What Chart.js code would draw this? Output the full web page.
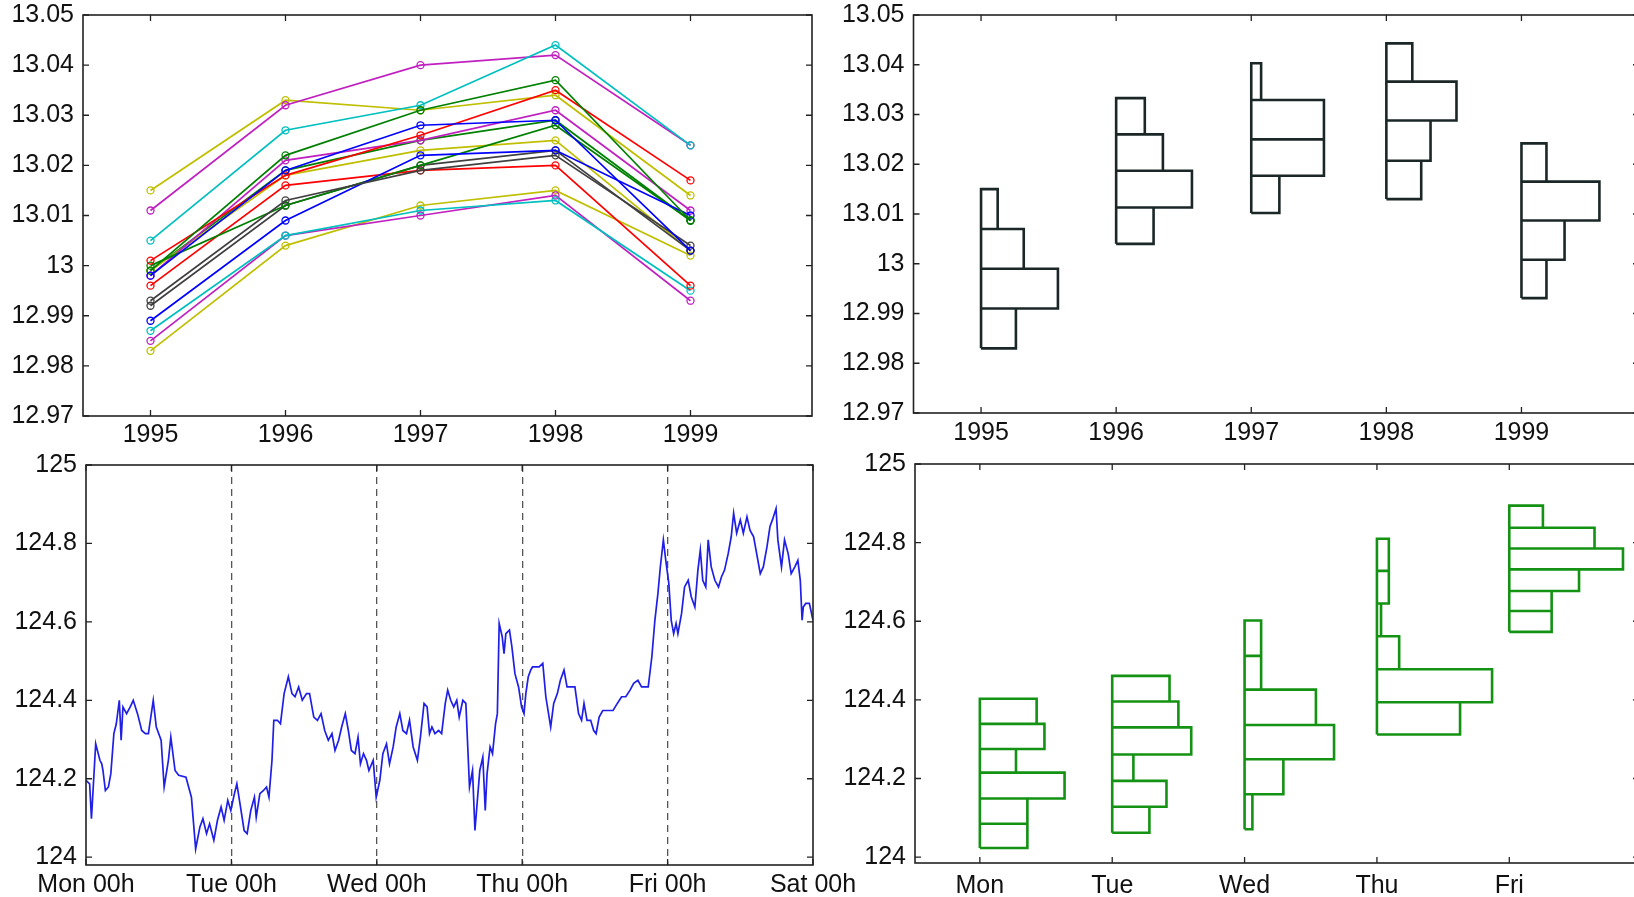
<!DOCTYPE html>
<html>
<head>
<meta charset="utf-8">
<script src="https://cdn.jsdelivr.net/npm/chart.js@4.4.0/dist/chart.umd.min.js"></script>
<style>
  html, body { margin: 0; background: #fff; overflow: hidden; width: 1634px; height: 897px; }
  canvas { position: absolute; }
</style>
</head>
<body>
<canvas id="lines" width="830" height="450" style="left:0;top:0"></canvas>
<canvas id="yearHist" width="830" height="450" style="left:830px;top:0"></canvas>
<canvas id="prices" width="870" height="457" style="left:0;top:440px"></canvas>
<canvas id="dayHist" width="830" height="457" style="left:830px;top:440px"></canvas>
<script>
// ---- data ----
const years = [1995, 1996, 1997, 1998, 1999];
const yTicksTop = [12.97, 12.98, 12.99, 13.00, 13.01, 13.02, 13.03, 13.04, 13.05];
const yTicksBottom = [124, 124.2, 124.4, 124.6, 124.8, 125];
const hourTicks = [0, 24, 48, 72, 96, 120];
const hourLabels = ['Mon 00h', 'Tue 00h', 'Wed 00h', 'Thu 00h', 'Fri 00h', 'Sat 00h'];
const dayTicks = [0, 1, 2, 3, 4];
const dayLabels = ['Mon', 'Tue', 'Wed', 'Thu', 'Fri'];

// one line per sample path (values per year)
const paths = [
  [12.998, 13.019, 13.028, 13.029, 13.003],
  [12.999, 13.022, 13.031, 13.037, 13.009],
  [13.001, 13.018, 13.026, 13.035, 13.017],
  [13.005, 13.027, 13.032, 13.044, 13.024],
  [13.011, 13.032, 13.040, 13.042, 13.024],
  [13.015, 13.033, 13.031, 13.034, 13.014],
  [12.993, 13.013, 13.019, 13.022, 13.004],
  [12.989, 13.009, 13.022, 13.023, 13.010],
  [13.000, 13.012, 13.020, 13.028, 13.009],
  [12.996, 13.016, 13.019, 13.020, 12.996],
  [12.987, 13.006, 13.011, 13.013, 12.995],
  [12.985, 13.006, 13.010, 13.014, 12.993],
  [12.983, 13.004, 13.012, 13.015, 13.002],
  [12.992, 13.012, 13.020, 13.023, 13.003],
  [12.998, 13.021, 13.025, 13.031, 13.011],
  [12.999, 13.018, 13.023, 13.025, 13.003],
  [12.999, 13.019, 13.025, 13.029, 13.009]
];
const pathColors = ['b', 'g', 'r', 'c', 'm', 'y', 'k', 'b', 'g', 'r', 'c', 'm', 'y', 'k', 'm', 'y', 'g'];

// histogram bin edges (bottom to top) and bar lengths, per year
const edges1995 = [12.983, 12.991, 12.999, 13.007, 13.015];
const len1995 = [0.258, 0.569, 0.316, 0.123];
const edges1996 = [13.004, 13.0113, 13.0187, 13.026, 13.0333];
const len1996 = [0.277, 0.561, 0.346, 0.212];
const edges1997 = [13.0102, 13.0177, 13.025, 13.0329, 13.0403];
const len1997 = [0.208, 0.538, 0.538, 0.073];
const edges1998 = [13.013, 13.0207, 13.0288, 13.0366, 13.0443];
const len1998 = [0.258, 0.327, 0.519, 0.192];
const edges1999 = [12.9931, 13.0008, 13.0087, 13.0165, 13.0242];
const len1999 = [0.185, 0.319, 0.577, 0.185];

// intraday price path
const hours = [0, 0.6, 0.9, 1.6, 2.3, 2.6, 2.8, 3.2, 3.7, 4.1, 4.6, 5.0, 5.5, 5.8, 6.1, 6.7, 7.3, 7.8, 8.5, 9.2,
  9.8, 10.3, 11.1, 11.6, 12.4, 12.9, 13.6, 14.0, 14.7, 15.3, 16.5, 17.4, 18.1, 18.8, 19.3, 19.9, 20.4, 21.1, 21.7, 22.3,
  22.8, 23.4, 23.9, 24.5, 24.9, 25.5, 26.1, 26.6, 27.2, 27.8, 28.1, 28.7, 29.3, 29.8, 30.2, 30.7, 31.0, 31.6, 32.1, 32.7,
  33.4, 34.0, 34.5, 35.1, 35.7, 36.4, 36.9, 37.6, 38.2, 38.8, 39.4, 40.0, 40.6, 41.1, 41.7, 42.2, 42.8, 43.3, 43.8, 44.4,
  44.9, 45.3, 45.8, 46.3, 46.7, 47.4, 47.9, 48.5, 49.0, 49.6, 50.1, 50.7, 51.2, 51.8, 52.3, 52.9, 53.4, 54.0, 54.7, 55.2,
  55.8, 56.3, 56.7, 57.1, 57.6, 58.2, 58.7, 59.3, 59.7, 60.2, 60.7, 61.2, 61.6, 62.2, 62.7, 63.3, 63.8, 64.2, 64.6, 65.0,
  65.5, 65.9, 66.2, 66.7, 67.1, 67.6, 67.9, 68.2, 68.7, 69.0, 69.3, 69.9, 70.3, 70.8, 71.4, 71.9, 72.3, 72.6, 73.0, 73.4,
  73.7, 74.3, 74.8, 75.4, 75.9, 76.7, 77.2, 77.8, 78.3, 78.9, 79.4, 80.0, 80.7, 81.3, 81.8, 82.2, 82.7, 83.3, 83.8, 84.2,
  84.7, 85.3, 86.1, 87.0, 87.7, 88.4, 89.1, 89.8, 90.4, 91.1, 91.7, 92.2, 92.8, 93.4, 93.9, 94.4, 94.8, 95.3, 95.7, 96.2,
  96.6, 97.0, 97.4, 97.7, 98.3, 98.8, 99.4, 99.9, 100.5, 101.0, 101.4, 101.8, 102.3, 102.7, 103.2, 103.8, 104.4, 104.9, 105.4, 106.0,
  106.5, 106.9, 107.4, 108.0, 108.5, 109.1, 109.6, 110.2, 110.7, 111.3, 111.8, 112.4, 112.9, 113.3, 113.9, 114.2, 114.8, 115.3, 115.9, 116.4,
  117.0, 117.5, 117.9, 118.2, 118.4, 118.8, 119.4, 120.0];
const price = [124.196, 124.187, 124.098, 124.289, 124.247, 124.238, 124.221, 124.170, 124.179, 124.213, 124.315, 124.340, 124.400, 124.298, 124.383, 124.366, 124.383, 124.400, 124.366, 124.323,
  124.315, 124.315, 124.400, 124.332, 124.298, 124.179, 124.247, 124.306, 124.221, 124.209, 124.204, 124.153, 124.021, 124.077, 124.098, 124.060, 124.085, 124.043, 124.094, 124.128,
  124.094, 124.145, 124.119, 124.162, 124.187, 124.128, 124.068, 124.060, 124.119, 124.153, 124.102, 124.162, 124.170, 124.179, 124.153, 124.247, 124.349, 124.349, 124.340, 124.417,
  124.460, 124.417, 124.409, 124.434, 124.400, 124.417, 124.417, 124.357, 124.349, 124.366, 124.323, 124.298, 124.315, 124.272, 124.298, 124.332, 124.366, 124.323, 124.272, 124.264,
  124.306, 124.238, 124.264, 124.247, 124.221, 124.247, 124.153, 124.196, 124.264, 124.289, 124.238, 124.281, 124.332, 124.366, 124.323, 124.315, 124.349, 124.281, 124.247, 124.306,
  124.392, 124.383, 124.315, 124.332, 124.315, 124.323, 124.315, 124.392, 124.426, 124.400, 124.383, 124.400, 124.357, 124.400, 124.392, 124.179, 124.221, 124.068, 124.145, 124.221,
  124.255, 124.119, 124.213, 124.281, 124.264, 124.340, 124.366, 124.596, 124.562, 124.519, 124.570, 124.579, 124.536, 124.468, 124.434, 124.383, 124.366, 124.417, 124.460, 124.477,
  124.485, 124.485, 124.485, 124.494, 124.409, 124.332, 124.392, 124.417, 124.451, 124.477, 124.434, 124.434, 124.434, 124.366, 124.349, 124.392, 124.349, 124.349, 124.323, 124.315,
  124.357, 124.374, 124.374, 124.374, 124.392, 124.409, 124.409, 124.426, 124.443, 124.451, 124.434, 124.434, 124.434, 124.511, 124.604, 124.672, 124.740, 124.809, 124.757, 124.698,
  124.604, 124.570, 124.596, 124.570, 124.621, 124.689, 124.706, 124.664, 124.638, 124.732, 124.783, 124.706, 124.689, 124.809, 124.740, 124.706, 124.689, 124.715, 124.732, 124.774,
  124.817, 124.877, 124.826, 124.860, 124.826, 124.868, 124.834, 124.817, 124.774, 124.723, 124.740, 124.791, 124.843, 124.860, 124.889, 124.809, 124.740, 124.809, 124.774, 124.723,
  124.740, 124.757, 124.706, 124.604, 124.638, 124.647, 124.647, 124.604];

// daily histograms: bin edges (bottom to top) and bar lengths
const edgesMon = [124.023, 124.085, 124.149, 124.215, 124.275, 124.339, 124.403];
const lenMon = [0.359, 0.359, 0.640, 0.273, 0.488, 0.429];
const edgesTue = [124.062, 124.128, 124.194, 124.261, 124.330, 124.396, 124.461];
const lenTue = [0.281, 0.410, 0.160, 0.597, 0.500, 0.433];
const edgesWed = [124.071, 124.160, 124.249, 124.336, 124.426, 124.512, 124.602];
const lenWed = [0.059, 0.293, 0.676, 0.539, 0.125, 0.125];
const edgesThu = [124.312, 124.394, 124.478, 124.562, 124.645, 124.728, 124.810];
const lenThu = [0.628, 0.870, 0.168, 0.031, 0.090, 0.090];
const edgesFri = [124.573, 124.626, 124.677, 124.732, 124.785, 124.838, 124.894];
const lenFri = [0.320, 0.320, 0.527, 0.859, 0.644, 0.254];

// ---- drawing ----
const matlab = { b: '#0000ff', g: '#008000', r: '#ff0000', c: '#00bfbf', m: '#c020c0', y: '#bfbf00', k: '#404040' };

Chart.defaults.font.family = '"Liberation Sans", Arial, sans-serif';
Chart.defaults.font.size = 25;
Chart.defaults.color = '#111';
Chart.defaults.animation = false;
Chart.defaults.events = [];
Chart.defaults.plugins.legend.display = false;
Chart.defaults.plugins.tooltip.enabled = false;

// frame around the axes with inward tick marks, like the original
const boxTicks = {
  id: 'boxTicks',
  afterDraw(chart) {
    const { ctx, chartArea: a, scales: { x, y } } = chart;
    ctx.save();
    ctx.strokeStyle = '#222';
    ctx.lineWidth = 1.6;
    ctx.strokeRect(a.left, a.top, a.width, a.height);
    ctx.beginPath();
    x.ticks.forEach(t => {
      const px = x.getPixelForValue(t.value);
      ctx.moveTo(px, a.bottom); ctx.lineTo(px, a.bottom - 6);
      ctx.moveTo(px, a.top); ctx.lineTo(px, a.top + 6);
    });
    y.ticks.forEach(t => {
      const py = y.getPixelForValue(t.value);
      ctx.moveTo(a.left, py); ctx.lineTo(a.left + 6, py);
      ctx.moveTo(a.right, py); ctx.lineTo(a.right - 6, py);
    });
    ctx.lineWidth = 1.3;
    ctx.stroke();
    ctx.restore();
  }
};

function scale(min, max, tickVals, labels, fit, pad) {
  return {
    type: 'linear', min, max,
    grid: { display: false, drawTicks: false },
    border: { display: false },
    afterBuildTicks: s => { s.ticks = tickVals.map(v => ({ value: v })); },
    afterFit: s => {
      fit(s);
      // labels may overhang the plot box, don't let that shrink it
      s.paddingTop = s.paddingBottom = s.paddingLeft = s.paddingRight = 0;
    },
    ticks: { callback: (v, i) => labels[i], autoSkip: false, maxRotation: 0, padding: pad }
  };
}

function histOutline(base, edges, lens) {
  const pts = [];
  lens.forEach((len, i) => {
    const lo = edges[i], hi = edges[i + 1];
    pts.push({ x: base, y: lo }, { x: base + len, y: lo }, { x: base + len, y: hi },
             { x: base, y: hi }, { x: base, y: lo }, { x: base, y: null });
  });
  return pts;
}

const topLabels = yTicksTop.map(v => String(+v.toFixed(2)));
const bottomLabels = yTicksBottom.map(v => String(+v.toFixed(1)));

// top left: paths across years
new Chart(document.getElementById('lines'), {
  type: 'scatter',
  data: {
    datasets: paths.map((p, i) => ({
      data: years.map((yr, j) => ({ x: yr, y: p[j] })),
      showLine: true,
      borderColor: matlab[pathColors[i]],
      borderWidth: 1.7,
      pointRadius: 3.5,
      pointBorderWidth: 1.3,
      pointBorderColor: matlab[pathColors[i]],
      pointBackgroundColor: 'rgba(0,0,0,0)'
    }))
  },
  options: {
    responsive: false,
    layout: { padding: { top: 15, right: 18, left: 0, bottom: 0 } },
    scales: {
      x: scale(1994.5, 1999.9, years, years.map(String), s => { s.height = 34; }, 4),
      y: scale(12.97, 13.05, yTicksTop, topLabels, s => { s.width = 83; }, 9)
    }
  },
  plugins: [boxTicks]
});

// top right: histograms per year
const yearHists = [[edges1995, len1995], [edges1996, len1996], [edges1997, len1997], [edges1998, len1998], [edges1999, len1999]];
new Chart(document.getElementById('yearHist'), {
  type: 'scatter',
  data: {
    datasets: yearHists.map(([e, l], i) => ({
      data: histOutline(years[i], e, l),
      showLine: true, spanGaps: false,
      borderColor: '#1b2727', borderWidth: 2.6,
      borderJoinStyle: 'miter', pointRadius: 0
    }))
  },
  options: {
    responsive: false,
    layout: { padding: { top: 15, right: 21, left: 0, bottom: 0 } },
    scales: {
      x: scale(1994.5, 1999.87, years, years.map(String), s => { s.height = 37; }, 5),
      y: scale(12.97, 13.05, yTicksTop, topLabels, s => { s.width = 83.5; }, 9)
    }
  },
  plugins: [boxTicks]
});

// bottom left: intraday price over the week
const pricesScaleX = scale(0, 120, hourTicks, hourLabels, s => { s.height = 32; }, 5);
pricesScaleX.grid = {
  display: true, drawTicks: false, drawOnChartArea: true, lineWidth: 1.3,
  color: c => (c.index === 0 || c.index === hourTicks.length - 1) ? 'rgba(0,0,0,0)' : '#555'
};
pricesScaleX.border = { display: false, dash: [7, 5] };
new Chart(document.getElementById('prices'), {
  type: 'scatter',
  data: {
    datasets: [{
      data: hours.map((h, i) => ({ x: h, y: price[i] })),
      showLine: true, borderColor: '#1f1fe8', borderWidth: 1.7, pointRadius: 0
    }]
  },
  options: {
    responsive: false,
    layout: { padding: { top: 25, right: 57, left: 0, bottom: 0 } },
    scales: {
      x: pricesScaleX,
      y: scale(123.98, 125, yTicksBottom, bottomLabels, s => { s.width = 86; }, 9)
    }
  },
  plugins: [boxTicks]
});

// bottom right: histograms per day
const dayHists = [[edgesMon, lenMon], [edgesTue, lenTue], [edgesWed, lenWed], [edgesThu, lenThu], [edgesFri, lenFri]];
new Chart(document.getElementById('dayHist'), {
  type: 'scatter',
  data: {
    datasets: dayHists.map(([e, l], i) => ({
      data: histOutline(dayTicks[i], e, l),
      showLine: true, spanGaps: false,
      borderColor: '#139213', borderWidth: 2.6,
      borderJoinStyle: 'miter', pointRadius: 0
    }))
  },
  options: {
    responsive: false,
    layout: { padding: { top: 24, right: 21, left: 0, bottom: 0 } },
    scales: {
      x: scale(-0.49, 4.98, dayTicks, dayLabels, s => { s.height = 34; }, 8),
      y: scale(123.985, 125, yTicksBottom, bottomLabels, s => { s.width = 85; }, 9)
    }
  },
  plugins: [boxTicks]
});
</script>
</body>
</html>
